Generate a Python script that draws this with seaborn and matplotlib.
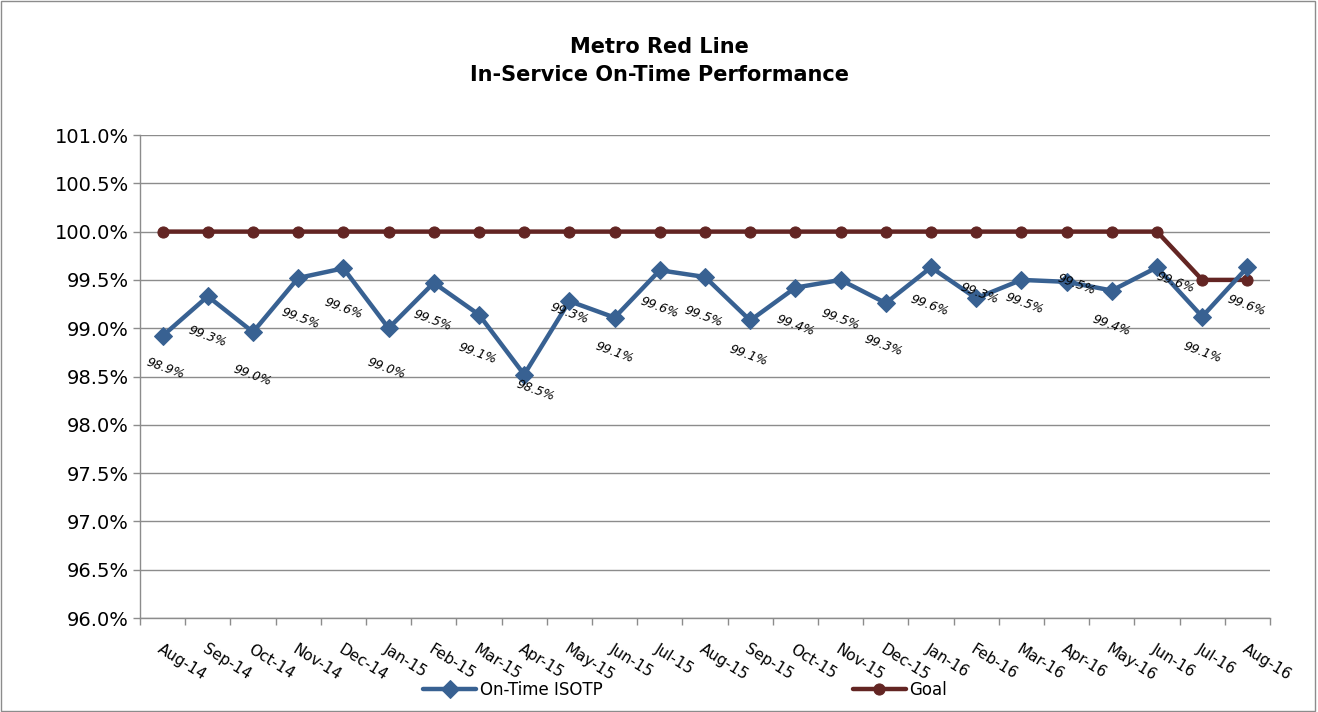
import pandas as pd
import matplotlib
matplotlib.use("Agg")
import matplotlib.pyplot as plt
import seaborn as sns
from matplotlib.patches import Rectangle
from matplotlib.ticker import FuncFormatter, FixedLocator

# Chart data
months = ["Aug-14", "Sep-14", "Oct-14", "Nov-14", "Dec-14", "Jan-15", "Feb-15", "Mar-15",
          "Apr-15", "May-15", "Jun-15", "Jul-15", "Aug-15", "Sep-15", "Oct-15", "Nov-15",
          "Dec-15", "Jan-16", "Feb-16", "Mar-16", "Apr-16", "May-16", "Jun-16", "Jul-16",
          "Aug-16"]
on_time = [98.92, 99.33, 98.96, 99.52, 99.62, 99.00, 99.47, 99.14,
           98.52, 99.28, 99.11, 99.60, 99.53, 99.08, 99.42, 99.50,
           99.26, 99.63, 99.31, 99.50, 99.48, 99.39, 99.63, 99.12,
           99.63]
goal = [100.0] * 23 + [99.5, 99.5]

# where Excel dropped each data label (pixels right / down of the point)
label_dx = [3, 0, -1, 2, 0, -2, -1, -2, 11, 0, 0, 0, -2, -2, 0, 0, -2, -2, 3, 3, 10, 0, 18, 0, -1]
label_dy = [33, 40, 43, 41, 40, 40, 38, 39, 16, 12, 35, 37, 40, 35, 38, 40, 42, 38, -5, 24, 3, 35, 15, 36, 38]

df = pd.DataFrame({"idx": range(len(months)), "month": months,
                   "On-Time ISOTP": on_time, "Goal": goal})

sns.set_style("white")
plt.rcParams["font.family"] = ["DejaVu Sans"]
plt.rcParams["text.color"] = "black"
plt.rcParams["xtick.labelcolor"] = "black"
plt.rcParams["ytick.labelcolor"] = "black"

blue = "#386192"
red = "#632523"
grid_grey = "#8c8c8c"

fig = plt.figure(figsize=(13.18, 7.12), dpi=100)
ax = fig.add_axes([140 / 1318, 1 - 618 / 712, 1130 / 1318, 483 / 712])

sns.lineplot(data=df, x="idx", y="On-Time ISOTP", ax=ax, color=blue, lw=3.2,
             marker="D", markersize=9, markeredgecolor=blue, label="On-Time ISOTP", zorder=3)
sns.lineplot(data=df, x="idx", y="Goal", ax=ax, color=red, lw=3.2,
             marker="o", markersize=8, markeredgecolor=red, label="Goal", zorder=2)

# data labels
for i, v in enumerate(on_time):
    ax.annotate(f"{v:.1f}%", (i, v), xytext=(label_dx[i], -label_dy[i]),
                textcoords="offset pixels", ha="center", va="center",
                rotation=-20, fontsize=9, style="italic", color="black", zorder=4)

ax.set_xlim(-0.5, len(months) - 0.5)
ax.set_ylim(96.0, 101.0)
ax.set_yticks([96.0 + 0.5 * k for k in range(11)])
ax.yaxis.set_major_formatter(FuncFormatter(lambda y, p: f"{y:.1f}%"))
ax.tick_params(axis="y", labelsize=14, length=5, width=1, color=grid_grey, pad=3, left=True)
ax.yaxis.grid(True, color=grid_grey, lw=1)
ax.xaxis.grid(False)

# category labels at centres, tick marks between categories
ax.set_xticks(range(len(months)))
ax.set_xticklabels(months, rotation=-32, ha="left", va="top", rotation_mode="anchor", fontsize=11)
ax.tick_params(axis="x", which="major", length=0, pad=17)
ax.xaxis.set_minor_locator(FixedLocator([k - 0.5 for k in range(len(months) + 1)]))
ax.tick_params(axis="x", which="minor", length=5, width=1, color=grid_grey, bottom=True)
ax.set_xlabel("")
ax.set_ylabel("")

for s in ["top", "right"]:
    ax.spines[s].set_visible(False)
for s in ["left", "bottom"]:
    ax.spines[s].set_color(grid_grey)
    ax.spines[s].set_linewidth(1)

ax.get_legend().remove()
handles, labels = ax.get_legend_handles_labels()
fig.legend(handles, labels, loc="center", bbox_to_anchor=(685 / 1318, 1 - 690 / 712),
           ncol=2, frameon=False, fontsize=12, columnspacing=15, handlelength=3.2,
           handletextpad=0.2)

fig.text(659 / 1318, 1 - 61 / 712, "Metro Red Line\nIn-Service On-Time Performance",
         ha="center", va="center", fontsize=15, fontweight="bold", linespacing=1.55)

fig.patches.append(Rectangle((0.001, 0.001), 0.997, 0.997, transform=fig.transFigure,
                             fill=False, edgecolor="#8c8c8c", lw=1))

fig.savefig("out.png", dpi=100)
